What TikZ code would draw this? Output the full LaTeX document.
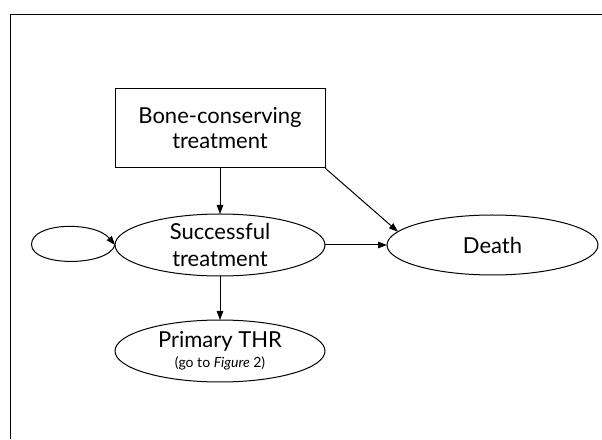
\documentclass[tikz,border=0pt]{standalone}
\usepackage{fontspec}
\setmainfont{Lato}
\usetikzlibrary{shapes.geometric,arrows.meta}
\newcommand{\notefont}{\fontsize{14}{20}\selectfont}
\begin{document}
\begin{tikzpicture}[x=1pt,y=1pt,
  every node/.style={inner sep=0pt, outer sep=0pt},
  box/.style={draw, line width=1pt, minimum width=210pt, minimum height=79pt},
  state/.style={draw, ellipse, line width=1pt, minimum width=210pt, minimum height=62pt},
  lbl/.style={align=center, font=\fontsize{22}{25}\selectfont},
  arr/.style={line width=1pt, -{Triangle[length=9pt,width=6.5pt]}},
  frame/.style={line width=1.3pt}
]
\useasboundingbox (0,0) rectangle (602,439);

% outer frame (top and left edges)
\draw[frame] (10.5,0) -- (10.5,424.5) -- (602,424.5);

% states
\node[box] (bct) at (220,310.5) {};
\node[lbl] (bcttext) at (bct) {Bone-conserving\\treatment};

\node[state] (succ) at (220,194) {};
\node[lbl, font=\fontsize{22}{27}\selectfont] (succtext) at (succ) {Successful\\treatment};

\node[state, minimum width=211pt, minimum height=60pt] (death) at (492.5,194) {};
\node[lbl] (deathtext) at (death) {Death};

\node[state] (thr) at (220,88) {};
\node[lbl, font=\fontsize{22}{20}\selectfont] (thrtext) at (thr)
  {Primary THR\\{\notefont (go to \textit{Figure} 2)}};

% transitions
\draw[arr] (bct.south) -- (succ.north);
\draw[arr] (bct.south east) -- (death.172);
\draw[arr] (succ.east) -- (death.west);
\draw[arr] (succ.south) -- (thr.north);

% self-loop on the successful-treatment state
\coordinate (loopl) at (31.5,194.5);
\draw[arr] (succ.west) .. controls (108,172) and (31.5,172) .. (loopl)
  .. controls (31.5,217) and (95,218) .. (succ.west);
\end{tikzpicture}
\end{document}
